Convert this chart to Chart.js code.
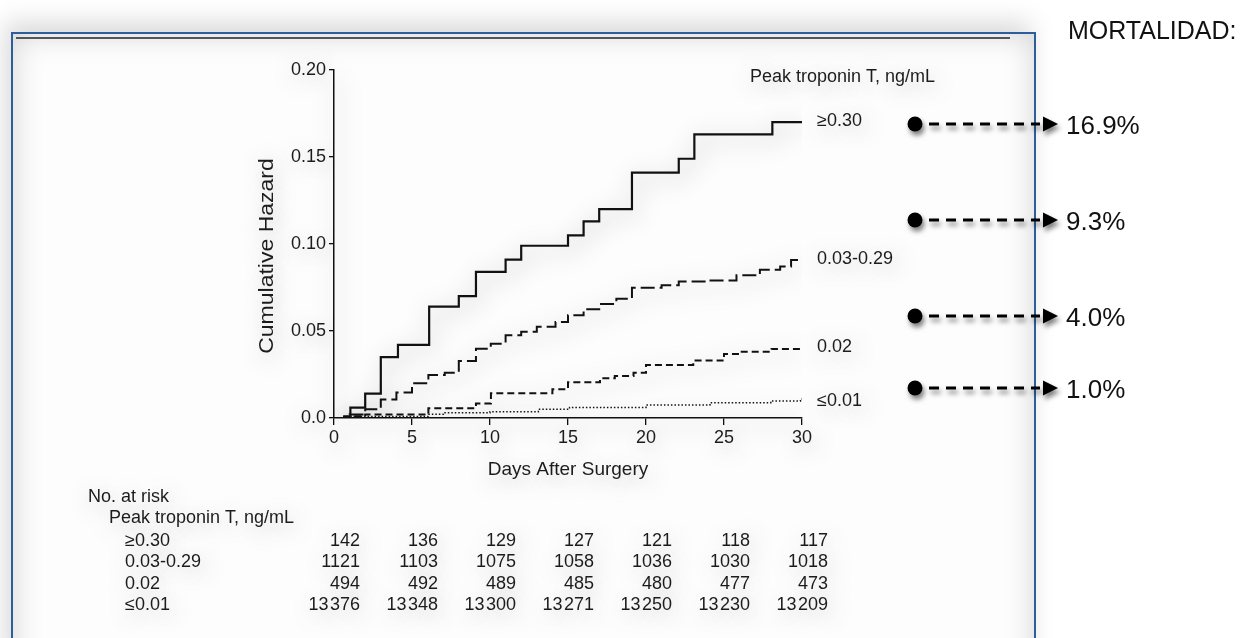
<!DOCTYPE html>
<html>
<head>
<meta charset="utf-8">
<script src="https://cdn.jsdelivr.net/npm/chart.js@4.4.1/dist/chart.umd.min.js"></script>
<style>
  html, body { margin: 0; padding: 0; background: #fff; width: 1251px; height: 638px; overflow: hidden; }
  #panel {
    position: absolute; left: 11px; top: 32px; width: 1021px; height: 640px;
    border: 2px solid #2c5e9c; border-bottom: none; background: #fdfdfd;
    box-shadow: -6px -10px 24px rgba(0,0,0,0.15), inset 0 0 30px rgba(0,0,0,0.17);
  }
  #rule { position: absolute; left: 16px; top: 37px; width: 994px; height: 2px; background: #555; }
  canvas { position: absolute; left: 0; top: 0; }
</style>
</head>
<body>
<div id="panel"></div>
<div id="rule"></div>
<canvas id="c" width="1251" height="638"></canvas>
<script>
// Peak troponin T groups
const groups = ['≥0.30', '0.03-0.29', '0.02', '≤0.01'];

// Cumulative hazard step functions: day of each jump and the hazard after it
const daysHigh   = [0, 1.05, 2, 3, 4.1, 6.1, 8, 9.1, 11, 12, 15, 16, 17, 19.1, 22.1, 23.1, 28.1, 30];
const hazardHigh = [0, 0.006, 0.014, 0.035, 0.042, 0.064, 0.070, 0.084, 0.091, 0.099, 0.105, 0.113, 0.120, 0.141, 0.149, 0.163, 0.170, 0.170];

const daysMid   = [0, 1, 2, 3, 4, 5, 6.05, 7.1, 8, 9.1, 10.05, 11, 12, 13, 14.2, 15, 16, 17, 18.1, 19.1, 21, 22.1, 24, 25.8, 27.3, 28.6, 29.3, 30];
const hazardMid = [0, 0.002, 0.005, 0.0107, 0.0146, 0.020, 0.0247, 0.026, 0.0328, 0.0398, 0.0427, 0.0475, 0.0496, 0.0525, 0.0552, 0.059, 0.0625, 0.0655, 0.0685, 0.0749, 0.0763, 0.0784, 0.079, 0.082, 0.0852, 0.087, 0.0908, 0.0908];

const daysLow   = [0, 0.5, 2, 6.05, 9.1, 10.06, 14, 15, 17.05, 18, 19.2, 20, 23.03, 25, 26, 28.05, 30];
const hazardLow = [0, 0.001, 0.002, 0.0056, 0.0084, 0.0142, 0.0165, 0.0205, 0.0228, 0.0241, 0.026, 0.0305, 0.033, 0.0368, 0.0381, 0.0397, 0.0397];

const daysMin   = [0, 0.5, 6.05, 7, 10, 13.1, 15.1, 20, 24.1, 28, 29.9, 30];
const hazardMin = [0, 0.0008, 0.0021, 0.003, 0.0036, 0.005, 0.0061, 0.0075, 0.0088, 0.0098, 0.0109, 0.0109];

// Number at risk table
const riskDays    = [0, 5, 10, 15, 20, 25, 30];
const atRiskHigh  = [142, 136, 129, 127, 121, 118, 117];
const atRiskMid   = [1121, 1103, 1075, 1058, 1036, 1030, 1018];
const atRiskLow   = [494, 492, 489, 485, 480, 477, 473];
const atRiskMin   = [13376, 13348, 13300, 13271, 13250, 13230, 13209];

// 30-day mortality per group
const mortality = ['16.9%', '9.3%', '4.0%', '1.0%'];
const mortalityY = [124, 220, 316, 388];

// Axis ticks
const xTickStep = 5;
const yTickLabels = { '0': '0.0', '0.05': '0.05', '0.1': '0.10', '0.15': '0.15', '0.2': '0.20' };

const FONT = "'Liberation Sans', Arial, Helvetica, sans-serif";
const INK = '#1c1c1c';

const toPoints = (xs, ys) => xs.map((d, i) => ({ x: d, y: ys[i] }));

// soft grey glow behind every chart element
function setHalo(ctx) {
  ctx.shadowColor = 'rgba(0,0,0,0.42)';
  ctx.shadowBlur = 24;
  ctx.shadowOffsetX = 3;
  ctx.shadowOffsetY = 5;
}

function fmtRisk(n) {
  const s = String(n);
  return n >= 10000 ? s.slice(0, s.length - 3) + '\u200A' + s.slice(-3) : s;
}

const decorations = {
  id: 'decorations',
  beforeDraw(chart) {
    chart.ctx.save();
    setHalo(chart.ctx);
  },
  afterDraw(chart) {
    const ctx = chart.ctx;
    ctx.restore();
    const xs = chart.scales.x, ys = chart.scales.y;

    ctx.save();
    setHalo(ctx);
    ctx.fillStyle = INK;

    // y-axis title
    ctx.save();
    ctx.translate(267, 256);
    ctx.rotate(-Math.PI / 2);
    ctx.scale(1.15, 1);
    ctx.font = '20px ' + FONT;
    ctx.textAlign = 'center';
    ctx.textBaseline = 'middle';
    ctx.fillText('Cumulative Hazard', 0, 0);
    ctx.restore();

    // legend heading and end-of-line group labels
    ctx.font = '18px ' + FONT;
    ctx.textAlign = 'left';
    ctx.textBaseline = 'middle';
    ctx.fillText('Peak troponin T, ng/mL', 750, 77);
    const finals = [hazardHigh, hazardMid, hazardLow, hazardMin].map(a => a[a.length - 1]);
    const nudge = [-1, -1, -2, 2];
    finals.forEach((v, i) => {
      ctx.fillText(groups[i], chart.chartArea.right + 15, ys.getPixelForValue(v) + nudge[i]);
    });

    // number at risk table
    ctx.fillText('No. at risk', 88, 497);
    ctx.fillText('Peak troponin T, ng/mL', 109, 518);
    const rows = [atRiskHigh, atRiskMid, atRiskLow, atRiskMin];
    const rowY = [541, 562, 584, 605];
    rows.forEach((row, r) => {
      ctx.textAlign = 'left';
      ctx.fillText(groups[r], 125, rowY[r]);
      ctx.textAlign = 'right';
      row.forEach((n, c) => {
        ctx.fillText(fmtRisk(n), xs.getPixelForValue(riskDays[c]) + 26, rowY[r]);
      });
    });
    ctx.restore();

    // mortality call-outs
    ctx.save();
    mortalityY.forEach((y, i) => {
      ctx.save();
      ctx.shadowColor = 'rgba(0,0,0,0.5)';
      ctx.shadowBlur = 5;
      ctx.shadowOffsetX = 2;
      ctx.shadowOffsetY = 4;
      ctx.fillStyle = '#000';
      ctx.strokeStyle = '#000';
      ctx.beginPath();
      ctx.arc(915, y, 7.5, 0, Math.PI * 2);
      ctx.fill();
      ctx.lineWidth = 3;
      ctx.setLineDash([10, 7]);
      ctx.beginPath();
      ctx.moveTo(929, y);
      ctx.lineTo(1040, y);
      ctx.stroke();
      ctx.setLineDash([]);
      ctx.beginPath();
      ctx.moveTo(1043, y - 7.5);
      ctx.lineTo(1058, y);
      ctx.lineTo(1043, y + 7.5);
      ctx.closePath();
      ctx.fill();
      ctx.restore();

      ctx.fillStyle = '#111';
      ctx.font = '26px ' + FONT;
      ctx.textAlign = 'left';
      ctx.textBaseline = 'middle';
      ctx.fillText(mortality[i], 1066, y + 3);
    });
    ctx.font = '25px ' + FONT;
    ctx.fillText('MORTALIDAD:', 1068, 32);
    ctx.restore();
  }
};

const lineStyle = (label, xs, ys, dash, width) => ({
  label,
  data: toPoints(xs, ys),
  borderColor: '#111',
  borderWidth: width,
  borderDash: dash,
  stepped: 'before',
  pointRadius: 0,
  fill: false
});

new Chart(document.getElementById('c'), {
  type: 'line',
  data: {
    datasets: [
      lineStyle(groups[3], daysMin, hazardMin, [1.5, 2], 1.5),
      lineStyle(groups[2], daysLow, hazardLow, [7, 4], 2),
      lineStyle(groups[1], daysMid, hazardMid, [14, 5], 2),
      lineStyle(groups[0], daysHigh, hazardHigh, [], 2.2)
    ]
  },
  options: {
    responsive: false,
    animation: false,
    devicePixelRatio: 1,
    layout: { padding: { left: 234, right: 449, top: 70, bottom: 140 } },
    plugins: { legend: { display: false }, tooltip: { enabled: false } },
    scales: {
      x: {
        type: 'linear', min: 0, max: 30,
        ticks: { stepSize: xTickStep, color: INK, font: { family: FONT, size: 18 }, padding: 2, maxRotation: 0 },
        grid: { display: true, drawOnChartArea: false, drawTicks: true, tickLength: 7, color: '#111', lineWidth: 1.3 },
        border: { display: true, color: '#111', width: 1.5 },
        title: { display: true, text: 'Days After Surgery', color: INK, font: { family: FONT, size: 19 }, padding: { top: 0, bottom: 17 } },
        afterFit(s) { s.height = 80; }
      },
      y: {
        type: 'linear', min: 0, max: 0.2,
        ticks: {
          stepSize: 0.05, color: INK, font: { family: FONT, size: 18 }, padding: 3,
          callback: v => yTickLabels[String(Math.round(v * 100) / 100)]
        },
        grid: { display: true, drawOnChartArea: false, drawTicks: true, tickLength: 5, color: '#111', lineWidth: 1.3 },
        border: { display: true, color: '#111', width: 1.5 },
        afterFit(s) { s.width = 100; }
      }
    }
  },
  plugins: [decorations]
});
</script>
</body>
</html>
